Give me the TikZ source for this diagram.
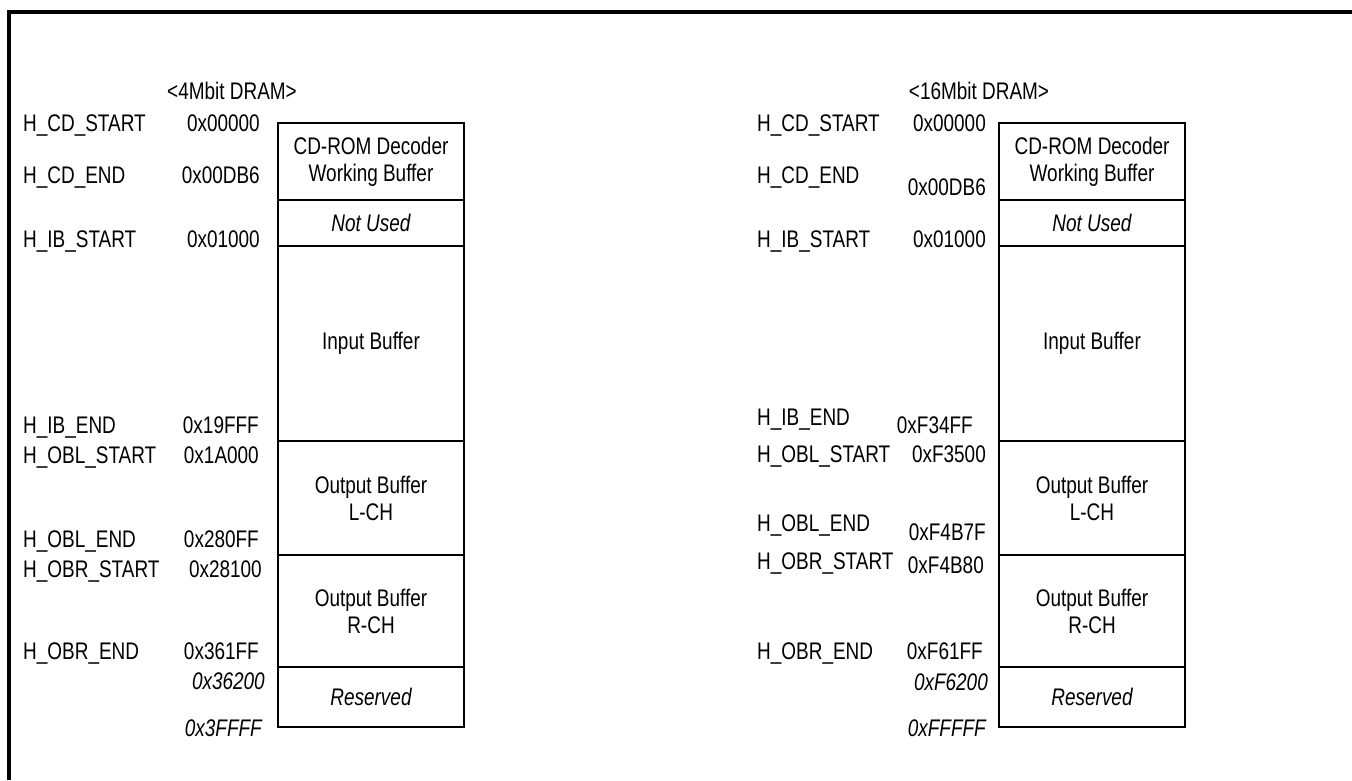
\documentclass[tikz,border=0pt]{standalone}
\usepackage{fontspec}
\setmainfont{Liberation Sans}[FakeStretch=0.79]
\usetikzlibrary{positioning}

\begin{document}
\begin{tikzpicture}[
  x=1pt, y=-1pt,
  font=\fontsize{24}{27}\selectfont,
  frame/.style={line width=3.5pt, line join=miter},
  seg/.style={draw, line width=1.5pt, minimum width=186pt, inner sep=0pt, outer sep=0pt, align=center},
  lab/.style={inner sep=0pt, text height=17pt, text depth=0pt},
  sym/.style={lab, anchor=west},
  addr/.style={lab, anchor=east},
  ital/.style={font=\fontsize{24}{27}\selectfont\itshape}
]
\useasboundingbox (0,0) rectangle (1352,780);
\draw[frame] (9,780) -- (9,12) -- (1352,12);

% 4Mbit map
\node[lab] (title4) at (232,91) {<4Mbit DRAM>};
\node[seg, minimum height=77pt, anchor=north] (cd4) at (371,123) {CD-ROM Decoder\\Working Buffer};
\node[seg, ital, minimum height=46pt, below=0pt of cd4] (nu4) {Not Used};
\node[seg, minimum height=195pt, below=0pt of nu4] (ib4) {Input Buffer};
\node[seg, minimum height=114pt, below=0pt of ib4] (obl4) {Output Buffer\\L-CH};
\node[seg, minimum height=112pt, below=0pt of obl4] (obr4) {Output Buffer\\R-CH};
\node[seg, ital, minimum height=60pt, below=0pt of obr4] (rs4) {Reserved};

\node[sym] (cds4) at (23,123) {H\_CD\_START};
\node[sym] (cde4) at (23,175) {H\_CD\_END};
\node[sym] (ibs4) at (23,239) {H\_IB\_START};
\node[sym] (ibe4) at (23,425) {H\_IB\_END};
\node[sym] (obls4) at (23,455) {H\_OBL\_START};
\node[sym] (oble4) at (23,539) {H\_OBL\_END};
\node[sym] (obrs4) at (23,569) {H\_OBR\_START};
\node[sym] (obre4) at (23,651) {H\_OBR\_END};

\node[addr] (a4a) at (260,123) {0x00000};
\node[addr] (a4b) at (260,175) {0x00DB6};
\node[addr] (a4c) at (260,239) {0x01000};
\node[addr] (a4d) at (259,425) {0x19FFF};
\node[addr] (a4e) at (259,455) {0x1A000};
\node[addr] (a4f) at (259,539) {0x280FF};
\node[addr] (a4g) at (262,569) {0x28100};
\node[addr] (a4h) at (259,651) {0x361FF};
\node[addr, ital] (a4i) at (265,681) {0x36200};
\node[addr, ital] (a4j) at (262,728) {0x3FFFF};

% 16Mbit map
\node[lab] (title16) at (979,91) {<16Mbit DRAM>};
\node[seg, minimum height=77pt, anchor=north] (cd16) at (1092,123) {CD-ROM Decoder\\Working Buffer};
\node[seg, ital, minimum height=46pt, below=0pt of cd16] (nu16) {Not Used};
\node[seg, minimum height=195pt, below=0pt of nu16] (ib16) {Input Buffer};
\node[seg, minimum height=114pt, below=0pt of ib16] (obl16) {Output Buffer\\L-CH};
\node[seg, minimum height=112pt, below=0pt of obl16] (obr16) {Output Buffer\\R-CH};
\node[seg, ital, minimum height=60pt, below=0pt of obr16] (rs16) {Reserved};

\node[sym] (cds16) at (757,123) {H\_CD\_START};
\node[sym] (cde16) at (757,175) {H\_CD\_END};
\node[sym] (ibs16) at (757,239) {H\_IB\_START};
\node[sym] (ibe16) at (757,417) {H\_IB\_END};
\node[sym] (obls16) at (757,454) {H\_OBL\_START};
\node[sym] (oble16) at (757,523) {H\_OBL\_END};
\node[sym] (obrs16) at (757,561) {H\_OBR\_START};
\node[sym] (obre16) at (757,651) {H\_OBR\_END};

\node[addr] (a16a) at (986,123) {0x00000};
\node[addr] (a16b) at (986,187) {0x00DB6};
\node[addr] (a16c) at (986,239) {0x01000};
\node[addr] (a16d) at (973,425) {0xF34FF};
\node[addr] (a16e) at (986,454) {0xF3500};
\node[addr] (a16f) at (986,532) {0xF4B7F};
\node[addr] (a16g) at (984,565) {0xF4B80};
\node[addr] (a16h) at (983,651) {0xF61FF};
\node[addr, ital] (a16i) at (988,682) {0xF6200};
\node[addr, ital] (a16j) at (986,728) {0xFFFFF};
\end{tikzpicture}
\end{document}
